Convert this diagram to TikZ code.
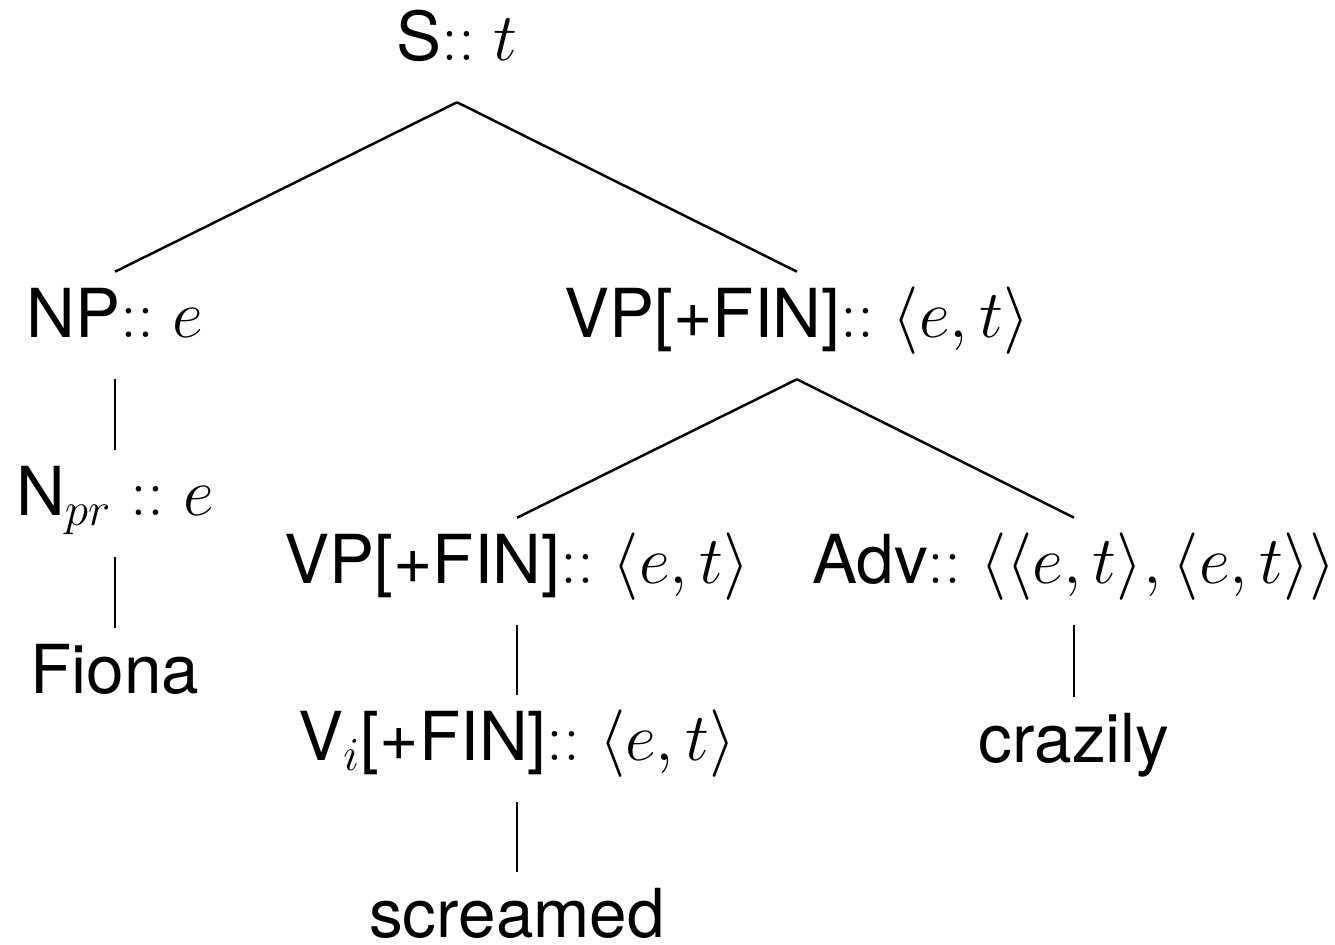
\RequirePackage{fix-cm}
\documentclass[tikz,border=0pt]{standalone}
\usepackage{fontspec}
\setmainfont{TeX Gyre Heros}
\begin{document}
\begin{tikzpicture}[x=0.01cm, y=-0.01cm, line width=0.7pt,
  tree node/.style={anchor=base, inner xsep=0pt, inner ysep=0.17cm, text height=0.47cm, text depth=0.24cm, font=\fontsize{19.2}{23}\selectfont}]
\useasboundingbox (0,0) rectangle (1335,945);
\begin{scope}[every node/.style={tree node}]
\node (s) at (457,60) {S$:: t$};
\node (np) at (115,337) {NP$:: e$};
\node (vp) at (797,337) {VP[+FIN]$:: \langle e,t\rangle$};
\node (npr) at (115,515) {N$_{pr}$ $:: e$};
\node (fiona) at (115,693) {Fiona};
\node (vpb) at (517,583) {VP[+FIN]$:: \langle e,t\rangle$};
\node (adv) at (1074,583) {Adv$:: \langle\langle e,t\rangle,\langle e,t\rangle\rangle$};
\node (vi) at (517,760) {V$_i$[+FIN]$:: \langle e,t\rangle$};
\node[text depth=0.05cm] (screamed) at (517,937) {screamed};
\node (crazily) at (1074,762) {crazily};
\end{scope}
\path
    (s.south) edge (np.north)
              edge (vp.north)
    (np.south) edge (npr.north)
    (npr.south) edge (fiona.north)
    (vp.south) edge (vpb.north)
               edge (adv.north)
    (vpb.south) edge (vi.north)
    (vi.south) edge (screamed.north)
    (adv.south) edge (crazily.north)
         ;
\end{tikzpicture}
\end{document}
